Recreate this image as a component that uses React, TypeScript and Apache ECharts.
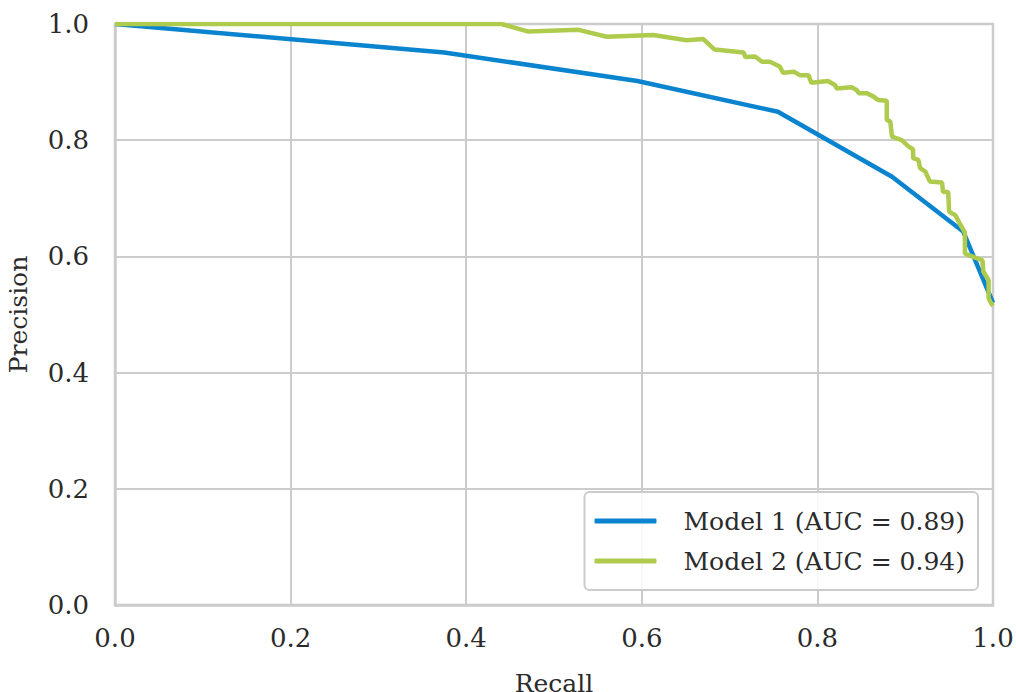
import React, { useEffect, useRef } from "react";
import * as echarts from "echarts";

const model1Recall = [0, 0.375, 0.595, 0.755, 0.885, 0.966, 1.0];
const model1Precision = [1.0, 0.951, 0.902, 0.849, 0.737, 0.643, 0.52];

const model2Recall = [
  0, 0.44, 0.471, 0.528, 0.56, 0.613, 0.651, 0.67, 0.683, 0.716, 0.718, 0.729,
  0.737, 0.746, 0.757, 0.761, 0.773, 0.78, 0.79, 0.793, 0.812, 0.82, 0.822,
  0.839, 0.845, 0.847, 0.856, 0.864, 0.869, 0.879, 0.879, 0.883, 0.885, 0.896,
  0.904, 0.909, 0.909, 0.915, 0.917, 0.923, 0.928, 0.942, 0.943, 0.949, 0.95,
  0.957, 0.962, 0.968, 0.968, 0.976, 0.988, 0.989, 0.995, 0.995, 0.998, 1.0,
];
const model2Precision = [
  1.0, 1.0, 0.987, 0.99, 0.978, 0.981, 0.972, 0.974, 0.956, 0.951, 0.943,
  0.944, 0.935, 0.935, 0.927, 0.916, 0.918, 0.912, 0.912, 0.899, 0.902, 0.895,
  0.889, 0.891, 0.886, 0.881, 0.881, 0.875, 0.869, 0.868, 0.835, 0.832, 0.806,
  0.8, 0.789, 0.784, 0.769, 0.766, 0.752, 0.746, 0.729, 0.727, 0.711, 0.711,
  0.677, 0.671, 0.657, 0.641, 0.605, 0.6, 0.593, 0.574, 0.559, 0.528, 0.519,
  0.515,
];

const seriesNames = ["Model 1 (AUC = 0.89)", "Model 2 (AUC = 0.94)"];
const seriesColors = ["#0A84CE", "#AECB4E"];

const FONT = "DejaVu Serif";

export default function App() {
  const ref = useRef<HTMLDivElement>(null);
  useEffect(() => {
    if (!ref.current) return;
    const chart = echarts.init(ref.current, null, { renderer: "svg" });
    const zip = (xs: number[], ys: number[]) => xs.map((x, i) => [x, ys[i]]);
    const axisCommon = {
      type: "value" as const,
      min: 0,
      max: 1,
      interval: 0.2,
      axisLine: { show: true, lineStyle: { color: "#cccccc", width: 2.5 } },
      axisTick: { show: false },
      splitLine: { show: true, lineStyle: { color: "#cccccc", width: 2 } },
      axisLabel: {
        color: "#2b2b2b",
        fontFamily: FONT,
        fontSize: 26,
        formatter: (v: number) => v.toFixed(1),
      },
      nameTextStyle: { color: "#2b2b2b", fontFamily: FONT, fontSize: 25 },
    };
    chart.setOption({
      animation: false,
      backgroundColor: "#ffffff",
      grid: {
        left: 115,
        right: 23,
        top: 24,
        bottom: 87,
        show: true,
        borderColor: "#cccccc",
        borderWidth: 2.5,
        containLabel: false,
        outerBoundsMode: "none",
      },
      xAxis: {
        ...axisCommon,
        name: "Recall",
        nameLocation: "middle",
        nameGap: 66,
        axisLabel: { ...axisCommon.axisLabel, margin: 20 },
      },
      yAxis: {
        ...axisCommon,
        name: "Precision",
        nameLocation: "middle",
        nameGap: 84,
        axisLabel: { ...axisCommon.axisLabel, margin: 26 },
      },
      legend: {
        orient: "vertical",
        right: 38,
        bottom: 102,
        padding: [15, 13, 15, 10],
        itemGap: 12,
        itemWidth: 62,
        itemHeight: 5,
        icon: "roundRect",
        backgroundColor: "rgba(255,255,255,0.85)",
        borderColor: "#cccccc",
        borderWidth: 2,
        borderRadius: 5,
        textStyle: {
          fontFamily: FONT,
          fontSize: 25,
          color: "#2b2b2b",
          lineHeight: 28,
          padding: [0, 0, 0, 22],
        },
        data: seriesNames,
      },
      series: [
        {
          name: seriesNames[0],
          type: "line",
          data: zip(model1Recall, model1Precision),
          showSymbol: false,
          symbol: "none",
          lineStyle: { color: seriesColors[0], width: 4.5 },
          itemStyle: { color: seriesColors[0] },
        },
        {
          name: seriesNames[1],
          type: "line",
          data: zip(model2Recall, model2Precision),
          showSymbol: false,
          symbol: "none",
          lineStyle: { color: seriesColors[1], width: 4.5 },
          itemStyle: { color: seriesColors[1] },
        },
      ],
    });
    return () => chart.dispose();
  }, []);
  return (
    <div
      ref={ref}
      style={{ position: "absolute", left: 0, top: 0, width: 1016, height: 692 }}
    />
  );
}
